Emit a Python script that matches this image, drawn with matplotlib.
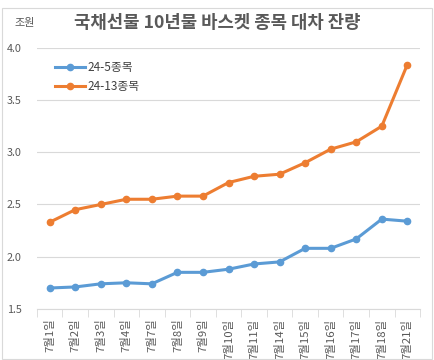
import matplotlib.pyplot as plt
import numpy as np

plt.rcParams['font.family'] = ['Noto Sans CJK KR', 'DejaVu Sans']

# Data
dates = ["7월1일", "7월2일", "7월3일", "7월4일", "7월7일", "7월8일", "7월9일", "7월10일",
         "7월11일", "7월14일", "7월15일", "7월16일", "7월17일", "7월18일", "7월21일"]
basket_5 = [1.70, 1.71, 1.74, 1.75, 1.74, 1.85, 1.85, 1.88, 1.93, 1.95, 2.08, 2.08, 2.17, 2.36, 2.34]
basket_13 = [2.33, 2.45, 2.50, 2.55, 2.55, 2.58, 2.58, 2.71, 2.77, 2.79, 2.90, 3.03, 3.10, 3.25, 3.84]

fig = plt.figure(figsize=(4.34, 3.60), dpi=100)
ax = fig.add_axes([0.085, 0.142, 0.883, 0.725])

x = np.arange(len(dates))
ax.plot(x, basket_5, color="#5B9BD5", linewidth=2.2, marker="o", markersize=4.5, label="24-5종목")
ax.plot(x, basket_13, color="#ED7D31", linewidth=2.2, marker="o", markersize=4.5, label="24-13종목")

ax.set_xlim(-0.5, len(dates) - 0.5)
ax.set_ylim(1.5, 4.0)
ax.set_yticks([1.5, 2.0, 2.5, 3.0, 3.5, 4.0])
ax.set_yticklabels(["1.5", "2.0", "2.5", "3.0", "3.5", "4.0"])
ax.grid(axis="y", color="#D9D9D9", linewidth=0.8)
ax.set_axisbelow(True)

ax.set_xticks(x)
ax.set_xticklabels(dates, rotation=90)
ax.set_xticks(np.arange(-0.5, len(dates)), minor=True)
ax.tick_params(axis="x", which="major", length=0, pad=7, labelsize=8.2, labelcolor="#595959")
ax.tick_params(axis="x", which="minor", length=6, color="#D9D9D9")
ax.tick_params(axis="y", length=0, pad=11, labelsize=7.8, labelcolor="#595959")

for s in ["top", "right", "left"]:
    ax.spines[s].set_visible(False)
ax.spines["bottom"].set_color("#D9D9D9")

ax.legend(loc="upper left", bbox_to_anchor=(0.02, 0.99), frameon=False, fontsize=8.5,
          handlelength=2.5, handletextpad=0.2, labelspacing=0.5, labelcolor="#404040")

fig.text(0.5, 0.935, "국채선물 10년물 바스켓 종목 대차 잔량", ha="center", va="center",
         fontsize=12.8, fontweight="bold", color="#595959")
fig.text(0.058, 0.937, "조원", ha="center", va="center", fontsize=8, color="#595959")

fig.patches.append(plt.Rectangle((0.004, 0.004), 0.992, 0.975, transform=fig.transFigure,
                                 fill=False, edgecolor="#D9D9D9", linewidth=0.8))

fig.savefig("out.png", dpi=100)
